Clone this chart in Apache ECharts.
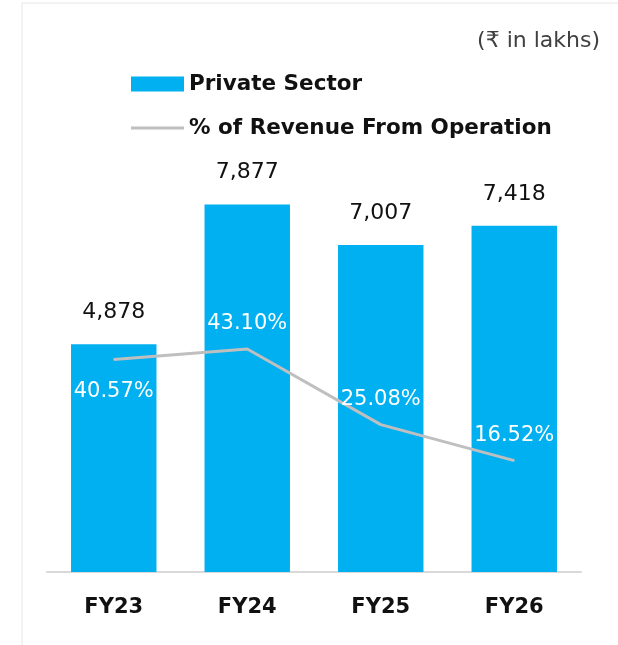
<!DOCTYPE html>
<html>
<head>
<meta charset="utf-8">
<script src="https://cdn.jsdelivr.net/npm/echarts@6/dist/echarts.min.js"></script>
<style>
html,body{margin:0;padding:0;background:#fff;}
#chart{width:618px;height:645px;}
</style>
</head>
<body>
<div id="chart"></div>
<script>
const categories = ['FY23', 'FY24', 'FY25', 'FY26'];
const privateSector = [4878, 7877, 7007, 7418];
const revenuePct = [40.57, 43.10, 25.08, 16.52];
const pctLabelPos = ['bottom', 'top', 'top', 'top'];
const unitText = '(₹ in lakhs)';

const FONT = '"DejaVu Sans", "Noto Sans", sans-serif';
const chart = echarts.init(document.getElementById('chart'), null, {renderer: 'canvas'});

chart.setOption({
  animation: false,
  backgroundColor: '#fff',
  graphic: [{
    type: 'rect',
    shape: {x: 22, y: 3, width: 700, height: 700},
    style: {fill: 'none', stroke: '#e6e6e6', lineWidth: 1},
    silent: true, z: -1
  }],
  title: {
    text: unitText,
    right: 18, top: 30, padding: 0,
    textStyle: {fontFamily: FONT, fontSize: 22, fontWeight: 'normal', color: '#404040'}
  },
  legend: [{
    data: [{name: 'Private Sector', icon: 'rect'}],
    left: 131, top: 73, padding: 0,
    itemWidth: 53, itemHeight: 15, itemGap: 6,
    textStyle: {fontFamily: FONT, fontSize: 21.5, fontWeight: 'bold', color: '#111'}
  }, {
    data: [{name: '% of Revenue From Operation', icon: 'rect'}],
    left: 131, top: 117, padding: 0,
    itemWidth: 53, itemHeight: 3, itemGap: 6,
    itemStyle: {color: '#bfbfbf'},
    textStyle: {fontFamily: FONT, fontSize: 21.5, fontWeight: 'bold', color: '#111'}
  }],
  grid: {left: 47, right: 37, top: 152, bottom: 73, containLabel: false},
  xAxis: {
    type: 'category',
    data: categories,
    axisLine: {lineStyle: {color: '#d9d9d9', width: 2}},
    axisTick: {show: false},
    axisLabel: {margin: 25, fontFamily: FONT, fontSize: 21, fontWeight: 'bold', color: '#111'}
  },
  yAxis: [{
    type: 'value', min: 0, max: 9000, show: false, splitLine: {show: false}
  }, {
    type: 'value', min: -10, max: 90, show: false, splitLine: {show: false}
  }],
  series: [{
    name: 'Private Sector',
    type: 'bar',
    data: privateSector,
    barWidth: '64%',
    itemStyle: {color: '#00B0F0'},
    label: {
      show: true, position: 'top', distance: 21,
      fontFamily: FONT, fontSize: 22, color: '#111',
      formatter: p => p.value.toLocaleString('en-US')
    },
    z: 2
  }, {
    name: '% of Revenue From Operation',
    type: 'line',
    yAxisIndex: 1,
    data: revenuePct.map((v, i) => ({
      value: v,
      label: {position: pctLabelPos[i], distance: pctLabelPos[i] === 'bottom' ? 21 : 14}
    })),
    symbol: 'circle',
    symbolSize: 1,
    showSymbol: true,
    lineStyle: {color: '#bfbfbf', width: 3},
    itemStyle: {color: '#bfbfbf'},
    label: {
      show: true,
      fontFamily: FONT, fontSize: 21, color: '#fff',
      formatter: p => p.value.toFixed(2) + '%'
    },
    z: 3
  }]
});
</script>
</body>
</html>
